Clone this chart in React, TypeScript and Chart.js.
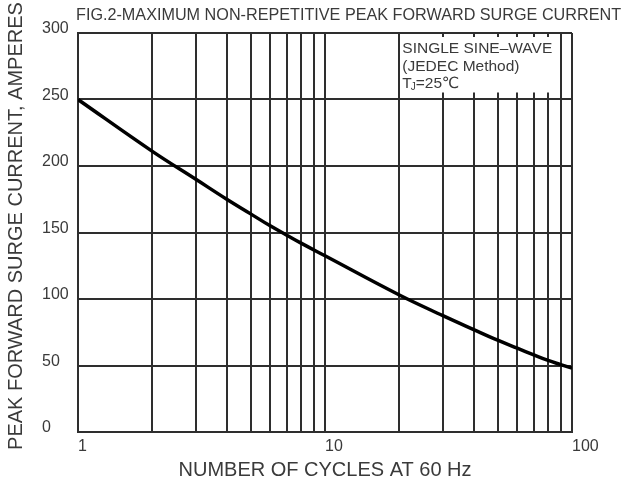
import React, { useEffect, useRef } from "react";
import { Chart, registerables } from "chart.js";

Chart.register(...registerables);

// ---- data ----
const cycles = [1, 2, 3, 4, 5, 6, 7, 8, 10, 20, 30, 40, 50, 60, 70, 80, 90, 100];
const surgeAmps = [250, 211, 190, 175, 164, 155, 148, 142, 132.5, 103, 87.5, 77, 69, 63, 58, 53.8, 50.7, 48];

const xGridValues = [1, 2, 3, 4, 5, 6, 7, 8, 9, 10, 20, 30, 40, 50, 60, 70, 80, 90, 100];
const xLabelValues = [1, 10, 100];
const yMin = 0;
const yMax = 300;
const yStep = 50;

const chartTitle = "FIG.2-MAXIMUM NON-REPETITIVE PEAK FORWARD SURGE CURRENT";
const yTitle = "PEAK FORWARD SURGE CURRENT, AMPERES";
const xTitle = "NUMBER OF CYCLES AT 60 Hz";
const noteLines = ["SINGLE SINE\u2013WAVE", "(JEDEC Method)"];
const noteTemp = { main: "T", sub: "J", rest: "=25\u2103" };

const FONT = "'Liberation Sans', Arial, Helvetica, sans-serif";
const GRID = "#2e2e2e";
const TEXT = "#3a3a3a";

const figText = {
  id: "figText",
  beforeDatasetsDraw(chart: any) {
    const { ctx, chartArea, scales } = chart;
    const x = scales.x;
    const y = scales.y;
    const left = x.getPixelForValue(20) + 1;
    const right = (x.getPixelForValue(80) + x.getPixelForValue(90)) / 2;
    const top = chartArea.top + 4;
    const bottom = y.getPixelForValue(250) - 7;
    ctx.save();
    ctx.fillStyle = "#ffffff";
    ctx.fillRect(left, top, right - left, bottom - top);
    ctx.fillStyle = TEXT;
    ctx.textAlign = "left";
    ctx.textBaseline = "alphabetic";
    ctx.font = `15.5px ${FONT}`;
    const tx = left + 2;
    ctx.fillText(noteLines[0], tx, top + 16);
    ctx.fillText(noteLines[1], tx, top + 34);
    const by = top + 51;
    ctx.fillText(noteTemp.main, tx, by);
    const tw = ctx.measureText(noteTemp.main).width;
    ctx.font = `10px ${FONT}`;
    ctx.fillText(noteTemp.sub, tx + tw - 1, by + 2);
    const sw = ctx.measureText(noteTemp.sub).width;
    ctx.font = `15.5px ${FONT}, 'DejaVu Sans'`;
    ctx.fillText(noteTemp.rest, tx + tw + sw - 1, by);
    ctx.restore();
  },
  afterDraw(chart: any) {
    const { ctx, chartArea } = chart;
    ctx.save();
    ctx.fillStyle = TEXT;
    ctx.textBaseline = "alphabetic";
    ctx.textAlign = "left";
    ctx.font = `16.2px ${FONT}`;
    ctx.fillText(chartTitle, chartArea.left - 2, 20);
    ctx.translate(16, 226);
    ctx.rotate(-Math.PI / 2);
    ctx.textAlign = "center";
    ctx.textBaseline = "middle";
    ctx.font = `20px ${FONT}`;
    ctx.fillText(yTitle, 0, 0);
    ctx.restore();
  },
};

export default function App() {
  const ref = useRef<HTMLCanvasElement | null>(null);

  useEffect(() => {
    if (!ref.current) return;
    const chart = new Chart(ref.current, {
      type: "line",
      data: {
        datasets: [
          {
            data: cycles.map((c, i) => ({ x: c, y: surgeAmps[i] })),
            borderColor: "#000000",
            borderWidth: 3.5,
            pointRadius: 0,
            tension: 0.4,
            fill: false,
          },
        ],
      },
      options: {
        responsive: false,
        animation: false,
        devicePixelRatio: 1,
        layout: { padding: { top: 33, right: 57, left: 42, bottom: 0 } },
        plugins: {
          legend: { display: false },
          tooltip: { enabled: false },
          title: { display: false },
        },
        scales: {
          x: {
            type: "logarithmic",
            min: 1,
            max: 100,
            afterBuildTicks: (s: any) => {
              s.ticks = xGridValues.map((v) => ({ value: v }));
            },
            afterFit: (s: any) => {
              s.height = 55;
            },
            grid: { color: GRID, lineWidth: 2, drawTicks: false },
            border: { color: GRID, width: 2 },
            ticks: {
              autoSkip: false,
              maxRotation: 0,
              minRotation: 0,
              align: "start",
              padding: 5,
              color: TEXT,
              font: { family: FONT, size: 16 },
              callback: (v: any) => (xLabelValues.includes(Number(v)) ? String(v) : ""),
            },
            title: {
              display: true,
              text: xTitle,
              color: TEXT,
              font: { family: FONT, size: 20 },
              padding: { top: 0, bottom: 5 },
            },
          },
          y: {
            min: yMin,
            max: yMax,
            afterFit: (s: any) => {
              s.width = 36;
            },
            grid: { color: GRID, lineWidth: 2, drawTicks: false },
            border: { color: GRID, width: 2 },
            ticks: {
              stepSize: yStep,
              crossAlign: "far",
              padding: 6,
              labelOffset: -4,
              color: TEXT,
              font: { family: FONT, size: 16 },
            },
          },
        },
      },
      plugins: [figText],
    } as any);
    return () => chart.destroy();
  }, []);

  return (
    <div style={{ position: "absolute", left: 0, top: 0, width: 629, height: 487, background: "#fff" }}>
      <canvas ref={ref} width={629} height={487} style={{ display: "block" }} />
    </div>
  );
}
